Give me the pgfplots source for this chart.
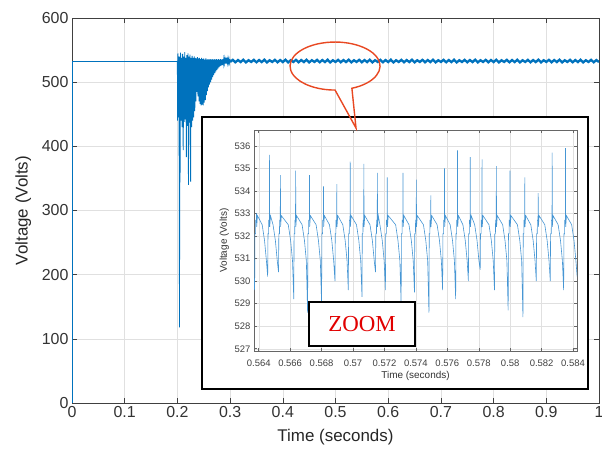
\documentclass[border=0pt]{standalone}
\usepackage{pgfplots}
\pgfplotsset{compat=1.18}
\usepackage{fontspec}
\setmainfont{Liberation Sans}
\newfontfamily\zoomfont{Liberation Serif}
\definecolor{mblue}{RGB}{0,114,189}
\definecolor{iblue}{RGB}{70,150,212}
\definecolor{bubble}{RGB}{232,72,34}
\definecolor{zred}{RGB}{225,0,0}
\begin{document}
\begin{tikzpicture}
\begin{axis}[name=main, at={(72bp,47bp)}, anchor=south west, scale only axis,
  width=527bp, height=385bp, xmin=0, xmax=1, ymin=0, ymax=600,
  xtick={0,0.1,0.2,0.3,0.4,0.5,0.6,0.7,0.8,0.9,1},
  xticklabels={0,0.1,0.2,0.3,0.4,0.5,0.6,0.7,0.8,0.9,1},
  ytick={0,100,200,300,400,500,600},
  /pgf/number format/assume math mode=true,
  grid=major, major grid style={black!12, line width=0.5bp},
  axis line style={black!75, line width=0.6bp},
  tick style={black!75, line width=0.6bp}, tick align=inside, major tick length=5bp,
  ticklabel style={font=\fontsize{16}{16}\selectfont, text=black!80},
  label style={font=\fontsize{17}{17}\selectfont, text=black!85},
  xlabel={Time (seconds)}, ylabel={Voltage (Volts)},
  xlabel style={yshift=-5bp}, ylabel style={yshift=4bp},
]
\addplot[mblue, line width=0.9bp] coordinates {(0,0) (0,533) (0.2,533)};
\addplot[mblue, line width=0.85bp] table {
0.2000 533
0.2002 440
0.201 545
0.202 445
0.203 540
0.2040 118
0.2045 540
0.205 344
0.206 546
0.207 440
0.208 538
0.209 430
0.210 544
0.211 394
0.212 540
0.213 438
0.214 547
0.215 442
0.216 538
0.217 383
0.218 542
0.219 432
0.220 545
0.221 340
0.222 540
0.223 437
0.224 543
0.225 345
0.226 538
0.227 430
0.228 541
0.229 440
0.230 538
0.231 445
0.232 540
0.233 455
0.234 538
0.235 470
0.236 537
0.237 485
0.238 539
0.239 478
0.240 537
0.241 470
0.242 538
0.243 466
0.244 536
0.245 464
0.246 538
0.247 465
0.248 536
0.249 464
0.250 537
0.251 468
0.252 535
0.253 472
0.254 537
0.255 480
0.256 535
0.257 486
0.258 536
0.259 492
0.260 535
0.261 496
0.262 536
0.263 500
0.264 535
0.265 504
0.266 536
0.267 508
0.268 535
0.269 511
0.270 536
0.271 514
0.272 535
0.273 517
0.274 536
0.275 519
0.276 535
0.277 521
0.278 536
0.279 523
0.280 535
0.281 525
0.282 536
0.283 526
0.284 535
0.285 527
0.286 536
0.287 528
0.288 536
0.289 529
0.290 537
0.291 529
0.292 538
0.293 529
0.294 538
0.295 530
0.296 537
0.297 530
0.298 536
0.299 530
0.300 536
};
\addplot[mblue, line width=2.3bp] coordinates {
(0.300,531.5) (0.305,534.8)
(0.310,531) (0.315,534.5) (0.320,531.3) (0.325,535) (0.330,530.8) (0.335,534.2) (0.340,531.5) (0.345,534.8)
(0.350,531) (0.355,534.5) (0.360,531.3) (0.365,535) (0.370,530.8) (0.375,534.2) (0.380,531.5) (0.385,534.8)
(0.390,531) (0.395,534.5) (0.400,531.3) (0.405,535) (0.410,530.8) (0.415,534.2) (0.420,531.5) (0.425,534.8)
(0.430,531) (0.435,534.5) (0.440,531.3) (0.445,535) (0.450,530.8) (0.455,534.2) (0.460,531.5) (0.465,534.8)
(0.470,531) (0.475,534.5) (0.480,531.3) (0.485,535) (0.490,530.8) (0.495,534.2) (0.500,531.5) (0.505,534.8)
(0.510,531) (0.515,534.5) (0.520,531.3) (0.525,535) (0.530,530.8) (0.535,534.2) (0.540,531.5) (0.545,534.8)
(0.550,531) (0.555,534.5) (0.560,531.3) (0.565,535) (0.570,530.8) (0.575,534.2) (0.580,531.5) (0.585,534.8)
(0.590,531) (0.595,534.5) (0.600,531.3) (0.605,535) (0.610,530.8) (0.615,534.2) (0.620,531.5) (0.625,534.8)
(0.630,531) (0.635,534.5) (0.640,531.3) (0.645,535) (0.650,530.8) (0.655,534.2) (0.660,531.5) (0.665,534.8)
(0.670,531) (0.675,534.5) (0.680,531.3) (0.685,535) (0.690,530.8) (0.695,534.2) (0.700,531.5) (0.705,534.8)
(0.710,531) (0.715,534.5) (0.720,531.3) (0.725,535) (0.730,530.8) (0.735,534.2) (0.740,531.5) (0.745,534.8)
(0.750,531) (0.755,534.5) (0.760,531.3) (0.765,535) (0.770,530.8) (0.775,534.2) (0.780,531.5) (0.785,534.8)
(0.790,531) (0.795,534.5) (0.800,531.3) (0.805,535) (0.810,530.8) (0.815,534.2) (0.820,531.5) (0.825,534.8)
(0.830,531) (0.835,534.5) (0.840,531.3) (0.845,535) (0.850,530.8) (0.855,534.2) (0.860,531.5) (0.865,534.8)
(0.870,531) (0.875,534.5) (0.880,531.3) (0.885,535) (0.890,530.8) (0.895,534.2) (0.900,531.5) (0.905,534.8)
(0.910,531) (0.915,534.5) (0.920,531.3) (0.925,535) (0.930,530.8) (0.935,534.2) (0.940,531.5) (0.945,534.8)
(0.950,531) (0.955,534.5) (0.960,531.3) (0.965,535) (0.970,530.8) (0.975,534.2) (0.980,531.5) (0.985,534.8)
(0.990,531) (0.995,534.5) (1.000,531.3)
};
\end{axis}
% inset frame
\draw[black, line width=1.8bp, fill=white] (202bp,61bp) rectangle (588bp,333bp);
\begin{axis}[name=inset, at={(254bp,99bp)}, anchor=south west, scale only axis,
  width=323bp, height=221bp, xmin=0.5637, xmax=0.58425, ymin=526.9, ymax=536.7,
  xtick={0.564,0.566,0.568,0.570,0.572,0.574,0.576,0.578,0.580,0.582,0.584},
  xticklabels={0.564,0.566,0.568,0.57,0.572,0.574,0.576,0.578,0.58,0.582,0.584},
  ytick={527,528,529,530,531,532,533,534,535,536},
  /pgf/number format/assume math mode=true,
  grid=major, major grid style={black!12, line width=0.4bp},
  axis line style={black!60, line width=0.5bp}, axis background/.style={fill=white},
  tick style={black!60, line width=0.5bp}, tick align=inside, major tick length=3bp,
  ticklabel style={font=\fontsize{9.5}{9.5}\selectfont, text=black!75},
  xticklabel style={yshift=-5bp},
  label style={font=\fontsize{10}{10}\selectfont, text=black!80},
  xlabel={Time (seconds)}, ylabel={Voltage (Volts)},
  xlabel style={yshift=2bp}, ylabel style={yshift=-1bp},
]
\addplot[iblue, line width=0.6bp] table {
0.56360 530.8
0.56374 529.6
0.56376 532.1
0.56380 532.1
0.56381 532.7
0.56385 532.7
0.56386 533.0
0.56387 532.4
0.56392 532.9
0.56422 532.5
0.56437 531.8
0.56449 530.9
0.56457 530.2
0.56459 532.1
0.56463 532.1
0.56464 532.7
0.56468 532.7
0.56469 535.6
0.56470 532.4
0.56475 532.9
0.56491 532.5
0.56506 531.8
0.56518 530.9
0.56526 530.4
0.56528 532.1
0.56532 532.1
0.56533 532.7
0.56537 532.7
0.56538 534.7
0.56539 532.4
0.56544 532.9
0.56588 532.5
0.56603 531.8
0.56615 530.9
0.56623 529.2
0.56625 532.1
0.56629 532.1
0.56630 532.7
0.56634 532.7
0.56635 534.9
0.56636 532.4
0.56641 532.9
0.56676 532.5
0.56691 531.8
0.56703 530.9
0.56711 528.6
0.56713 532.1
0.56717 532.1
0.56718 532.7
0.56722 532.7
0.56723 534.7
0.56724 532.4
0.56729 532.9
0.56765 532.5
0.56780 531.8
0.56792 530.9
0.56800 529.0
0.56802 532.1
0.56806 532.1
0.56807 532.7
0.56811 532.7
0.56812 534.2
0.56813 532.4
0.56818 532.9
0.56850 532.5
0.56865 531.8
0.56877 530.9
0.56885 530.0
0.56887 532.1
0.56891 532.1
0.56892 532.7
0.56896 532.7
0.56897 534.3
0.56898 532.4
0.56903 532.9
0.56935 532.5
0.56950 531.8
0.56962 530.9
0.56970 529.6
0.56972 532.1
0.56976 532.1
0.56977 532.7
0.56981 532.7
0.56982 535.3
0.56983 532.4
0.56988 532.9
0.57022 532.5
0.57037 531.8
0.57049 530.9
0.57057 529.3
0.57059 532.1
0.57063 532.1
0.57064 532.7
0.57068 532.7
0.57069 535.2
0.57070 532.4
0.57075 532.9
0.57108 532.5
0.57123 531.8
0.57135 530.9
0.57143 530.4
0.57145 532.1
0.57149 532.1
0.57150 532.7
0.57154 532.7
0.57155 534.8
0.57156 532.4
0.57161 532.9
0.57171 532.5
0.57186 531.8
0.57198 530.9
0.57206 529.6
0.57208 532.1
0.57212 532.1
0.57213 532.7
0.57217 532.7
0.57218 534.6
0.57219 532.4
0.57224 532.9
0.57271 532.5
0.57286 531.8
0.57298 530.9
0.57306 529.0
0.57308 532.1
0.57312 532.1
0.57313 532.7
0.57317 532.7
0.57318 534.8
0.57319 532.4
0.57324 532.9
0.57356 532.5
0.57371 531.8
0.57383 530.9
0.57391 529.5
0.57393 532.1
0.57397 532.1
0.57398 532.7
0.57402 532.7
0.57403 534.5
0.57404 532.4
0.57409 532.9
0.57448 532.5
0.57463 531.8
0.57475 530.9
0.57483 528.6
0.57485 532.1
0.57489 532.1
0.57490 532.7
0.57494 532.7
0.57495 533.8
0.57496 532.4
0.57501 532.9
0.57535 532.5
0.57550 531.8
0.57562 530.9
0.57570 529.6
0.57572 532.1
0.57576 532.1
0.57577 532.7
0.57581 532.7
0.57582 535.0
0.57583 532.4
0.57588 532.9
0.57618 532.5
0.57633 531.8
0.57645 530.9
0.57653 529.2
0.57655 532.1
0.57659 532.1
0.57660 532.7
0.57664 532.7
0.57665 535.8
0.57666 532.4
0.57671 532.9
0.57699 532.5
0.57714 531.8
0.57726 530.9
0.57734 530.0
0.57736 532.1
0.57740 532.1
0.57741 532.7
0.57745 532.7
0.57746 535.5
0.57747 532.4
0.57752 532.9
0.57774 532.5
0.57789 531.8
0.57801 530.9
0.57809 530.5
0.57811 532.1
0.57815 532.1
0.57816 532.7
0.57820 532.7
0.57821 535.4
0.57822 532.4
0.57827 532.9
0.57865 532.5
0.57880 531.8
0.57892 530.9
0.57900 529.6
0.57902 532.1
0.57906 532.1
0.57907 532.7
0.57911 532.7
0.57912 535.1
0.57913 532.4
0.57918 532.9
0.57952 532.5
0.57967 531.8
0.57979 530.9
0.57987 528.7
0.57989 532.1
0.57993 532.1
0.57994 532.7
0.57998 532.7
0.57999 534.9
0.58000 532.4
0.58005 532.9
0.58046 532.5
0.58061 531.8
0.58073 530.9
0.58081 528.4
0.58083 532.1
0.58087 532.1
0.58088 532.7
0.58092 532.7
0.58093 534.6
0.58094 532.4
0.58099 532.9
0.58131 532.5
0.58146 531.8
0.58158 530.9
0.58166 530.0
0.58168 532.1
0.58172 532.1
0.58173 532.7
0.58177 532.7
0.58178 533.9
0.58179 532.4
0.58184 532.9
0.58220 532.5
0.58235 531.8
0.58247 530.9
0.58255 530.0
0.58257 532.1
0.58261 532.1
0.58262 532.7
0.58266 532.7
0.58267 535.7
0.58268 532.4
0.58273 532.9
0.58305 532.5
0.58320 531.8
0.58332 530.9
0.58340 529.6
0.58342 532.1
0.58346 532.1
0.58347 532.7
0.58351 532.7
0.58352 535.9
0.58353 532.4
0.58358 532.9
0.58391 532.5
0.58406 531.8
0.58418 530.9
0.58426 530.2
};
\end{axis}
% ZOOM box
\draw[black, line width=1.8bp, fill=white] (309bp,104bp) rectangle (415bp,148bp);
\node[text=zred, font=\zoomfont\fontsize{23}{23}\selectfont] at (362bp,126bp) {ZOOM};
% speech bubble
\draw[bubble, line width=1.4bp, line join=miter]
  (351.9bp,361.7bp) arc[start angle=292, end angle=630, x radius=45bp, y radius=24bp]
  -- (356bp,322bp) -- cycle;
\pgfresetboundingbox
\useasboundingbox (0,0) rectangle (602bp,450bp);
\end{tikzpicture}
\end{document}
